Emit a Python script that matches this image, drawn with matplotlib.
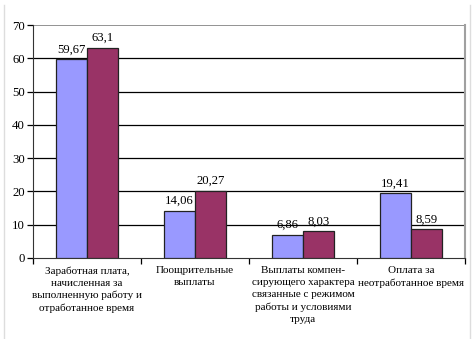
import numpy as np
import matplotlib.pyplot as plt

categories = ['Заработная плата,\nначисленная за\nвыполненную работу и\nотработанное время',
              'Поощрительные\nвыплаты',
              'Выплаты компен-\nсирующего характера\nсвязанные с режимом\nработы и условиями\nтруда',
              'Оплата за\nнеотработанное время']
series_a = [59.67, 14.06, 6.86, 19.41]
series_b = [63.1, 20.27, 8.03, 8.59]
labels_a = ['59,67', '14,06', '6,86', '19,41']
labels_b = ['63,1', '20,27', '8,03', '8,59']

plt.rcParams['font.family'] = 'Liberation Serif'

fig = plt.figure(figsize=(4.73, 3.39), dpi=100)
ax = fig.add_axes([0.0698, 0.239, 0.913, 0.687])

x = np.arange(len(categories))
w = 0.285
ax.bar(x - w/2, series_a, w, color='#9999FF', edgecolor='#222222', linewidth=0.9, zorder=3)
ax.bar(x + w/2, series_b, w, color='#993366', edgecolor='#222222', linewidth=0.9, zorder=3)

for xi, v, s in zip(x, series_a, labels_a):
    ax.text(xi - w/2, v + 1.2, s, ha='center', va='bottom', fontsize=9.2)
for xi, v, s in zip(x, series_b, labels_b):
    ax.text(xi + w/2, v + 1.2, s, ha='center', va='bottom', fontsize=9.2)

ax.set_xlim(-0.5, 3.5)
ax.set_ylim(0, 70)
ax.set_yticks(range(0, 71, 10))
ax.tick_params(axis='y', labelsize=9.2, length=4, width=0.9, direction='out', pad=2)

# category labels without ticks, tick marks at category boundaries
ax.set_xticks(x)
ax.set_xticklabels(categories, fontsize=8.0, linespacing=1.42)
ax.tick_params(axis='x', length=0, pad=6)
ax.set_xticks(np.arange(-0.5, 4, 1), minor=True)
ax.tick_params(axis='x', which='minor', length=4, width=0.9, direction='out')

for yv in range(10, 70, 10):
    ax.axhline(yv, color='black', linewidth=0.9, zorder=1)
ax.axhline(70, color='#808080', linewidth=1.2, zorder=1)

ax.spines['top'].set_visible(False)
ax.spines['right'].set_color('#A0A0A0')
ax.spines['right'].set_linewidth(1.5)
ax.spines['left'].set_color('#333333')
ax.spines['bottom'].set_color('#333333')

# thin border of the chart area
fig.add_artist(plt.Line2D([0.0095, 0.0095], [0.0, 0.985], color='#DDDDDD', linewidth=1))
fig.add_artist(plt.Line2D([0.994, 0.994], [0.0, 0.985], color='#DDDDDD', linewidth=1))

fig.savefig('out.png', dpi=100)
